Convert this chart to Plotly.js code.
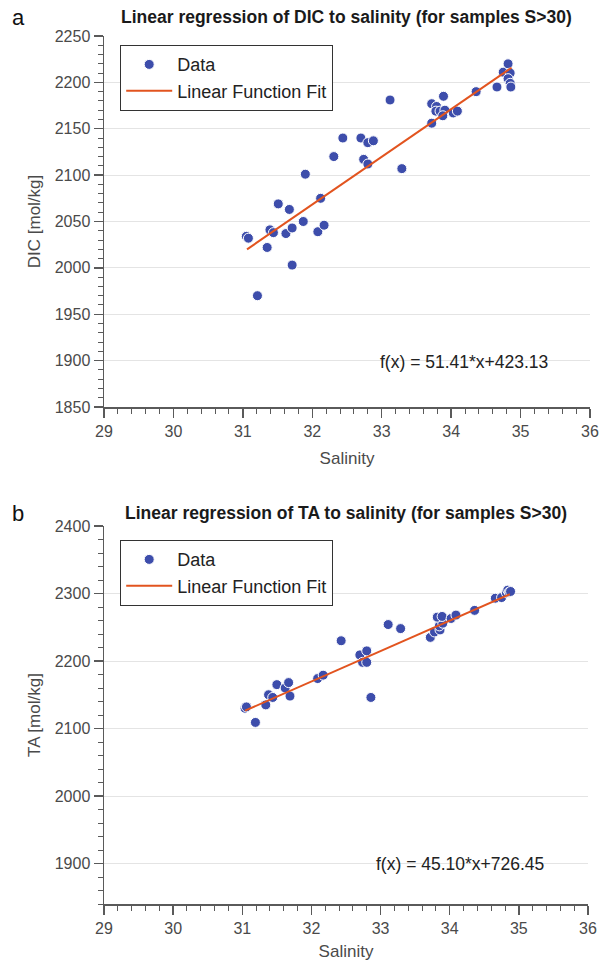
<!DOCTYPE html>
<html>
<head>
<meta charset="utf-8">
<script src="https://cdn.plot.ly/plotly-3.0.1.min.js"></script>
<style>html,body{margin:0;padding:0;background:#fff;}#chart{width:599px;height:961px;}</style>
</head>
<body>
<div id="chart"></div>
<script>
// ---- Panel a: DIC vs salinity ----
const salinityDIC = [31.05,31.08,31.21,31.35,31.39,31.44,31.51,31.62,31.67,31.71,31.71,31.87,31.90,32.08,32.12,32.17,32.31,32.44,32.70,32.74,32.80,32.80,32.88,33.12,33.29,33.72,33.72,33.79,33.78,33.84,33.91,33.88,33.89,34.03,34.09,34.36,34.66,34.75,34.82,34.85,34.82,34.85,34.86];
const dicValues   = [2034,2032,1970,2022,2041,2038,2069,2037,2063,2043,2003,2050,2101,2039,2075,2046,2120,2140,2140,2117,2135,2112,2137,2181,2107,2177,2156,2174,2169,2169,2170,2164,2185,2167,2169,2190,2195,2211,2220,2210,2204,2199,2195];
const fitSalinityDIC = [31.06, 34.87];
const fitDIC         = [2020.0, 2215.8];
const eqDIC = "f(x) = 51.41*x+423.13";

// ---- Panel b: TA vs salinity ----
const salinityTA = [31.04,31.06,31.19,31.34,31.38,31.44,31.50,31.62,31.67,31.69,32.09,32.17,32.43,32.70,32.80,32.74,32.80,32.86,33.11,33.29,33.72,33.78,33.86,33.85,33.90,33.82,33.89,34.02,34.09,34.36,34.66,34.75,34.82,34.84,34.86,34.88];
const taValues   = [2130,2132,2109,2135,2150,2146,2165,2160,2168,2148,2174,2179,2230,2209,2215,2198,2198,2146,2254,2248,2235,2243,2246,2252,2256,2265,2266,2263,2268,2275,2293,2294,2301,2305,2302,2303];
const fitSalinityTA = [31.04, 34.87];
const fitTA         = [2126.4, 2299.1];
const eqTA = "f(x) = 45.10*x+726.45";

const titleA = "Linear regression of DIC to salinity (for samples S>30)";
const titleB = "Linear regression of TA to salinity (for samples S>30)";
const xTitle = "Salinity";
const yTitleA = "DIC [mol/kg]";
const yTitleB = "TA [mol/kg]";
const legendNames = ["Data", "Linear Function Fit"];

const W = 599, H = 961;
const px = v => v / W;
const py = v => 1 - v / H;

const dotColor = '#3d4dab';
const lineColor = '#e2541f';
const axisColor = '#5a5a5a';
const textColor = '#4a4a4a';
const FONT = 'Liberation Sans, Arial, Helvetica, sans-serif';

const traces = [
  {x: salinityDIC, y: dicValues, type: 'scatter', mode: 'markers', name: legendNames[0],
   marker: {color: dotColor, size: 10, line: {color: '#ffffff', width: 1}}, xaxis: 'x', yaxis: 'y', legend: 'legend'},
  {x: fitSalinityDIC, y: fitDIC, type: 'scatter', mode: 'lines', name: legendNames[1],
   line: {color: lineColor, width: 2}, xaxis: 'x', yaxis: 'y', legend: 'legend'},
  {x: salinityTA, y: taValues, type: 'scatter', mode: 'markers', name: legendNames[0],
   marker: {color: dotColor, size: 10, line: {color: '#ffffff', width: 1}}, xaxis: 'x2', yaxis: 'y2', legend: 'legend2'},
  {x: fitSalinityTA, y: fitTA, type: 'scatter', mode: 'lines', name: legendNames[1],
   line: {color: lineColor, width: 2}, xaxis: 'x2', yaxis: 'y2', legend: 'legend2'}
];

function xAxis(anchor, domain) {
  return {
    anchor: anchor, domain: domain, range: [29, 36], dtick: 1, tick0: 29,
    ticks: 'outside', ticklen: 9, tickwidth: 1.3, tickcolor: axisColor,
    showline: true, linecolor: axisColor, linewidth: 1.5,
    showgrid: false, zeroline: false,
    tickfont: {family: FONT, size: 16, color: textColor},
    minor: {dtick: 0.2, ticks: 'outside', ticklen: 5, tickwidth: 1, tickcolor: axisColor, showgrid: false},
    title: {text: xTitle, font: {family: FONT, size: 17, color: textColor}, standoff: 13},
    fixedrange: true
  };
}
function yAxis(anchor, domain, range, dtick, minorDtick, title) {
  return {
    anchor: anchor, domain: domain, range: range, dtick: dtick, tick0: 0,
    ticks: 'outside', ticklen: 9, tickwidth: 1.3, tickcolor: axisColor,
    showline: true, linecolor: axisColor, linewidth: 1.5,
    showgrid: true, gridcolor: '#e4e4e4', gridwidth: 1, zeroline: false,
    tickfont: {family: FONT, size: 16, color: textColor},
    minor: {dtick: minorDtick, ticks: 'outside', ticklen: 5, tickwidth: 1, tickcolor: axisColor, showgrid: false},
    title: {text: title, font: {family: FONT, size: 17, color: textColor}, standoff: 10},
    fixedrange: true
  };
}

const legendStyle = (x, y) => ({
  x: x, y: y, xanchor: 'left', yanchor: 'top', xref: 'paper', yref: 'paper',
  bgcolor: '#ffffff', bordercolor: '#333333', borderwidth: 1.2,
  font: {family: FONT, size: 18, color: '#222222'},
  tracegroupgap: 0, itemwidth: 46
});

const layout = {
  width: W, height: H,
  margin: {l: 0, r: 0, t: 0, b: 0},
  paper_bgcolor: '#ffffff', plot_bgcolor: '#ffffff',
  showlegend: true,
  xaxis: xAxis('y', [px(104), px(590)]),
  yaxis: yAxis('x', [py(407), py(36)], [1850, 2250], 50, 10, yTitleA),
  xaxis2: xAxis('y2', [px(104), px(588)]),
  yaxis2: yAxis('x2', [py(904), py(526)], [1840, 2400], 100, 20, yTitleB),
  legend: legendStyle(px(120), py(45)),
  legend2: legendStyle(px(120), py(540)),
  annotations: [
    {text: 'a', xref: 'paper', yref: 'paper', x: px(18), y: py(17), xanchor: 'center', yanchor: 'middle', showarrow: false,
     font: {family: FONT, size: 22, color: '#111'}},
    {text: 'b', xref: 'paper', yref: 'paper', x: px(18), y: py(513), xanchor: 'center', yanchor: 'middle', showarrow: false,
     font: {family: FONT, size: 22, color: '#111'}},
    {text: '<b>' + titleA + '</b>', xref: 'paper', yref: 'paper', x: px(346), y: py(17), xanchor: 'center', yanchor: 'middle', showarrow: false,
     font: {family: FONT, size: 17.5, color: '#1a1a1a'}},
    {text: '<b>' + titleB + '</b>', xref: 'paper', yref: 'paper', x: px(346), y: py(513), xanchor: 'center', yanchor: 'middle', showarrow: false,
     font: {family: FONT, size: 17.5, color: '#1a1a1a'}},
    {text: eqDIC, xref: 'x', yref: 'y', x: 32.95, y: 1898, xanchor: 'left', yanchor: 'middle', showarrow: false,
     font: {family: FONT, size: 17.5, color: '#222'}},
    {text: eqTA, xref: 'x2', yref: 'y2', x: 32.91, y: 1900, xanchor: 'left', yanchor: 'middle', showarrow: false,
     font: {family: FONT, size: 17.5, color: '#222'}}
  ]
};

Plotly.newPlot('chart', traces, layout, {displayModeBar: false, staticPlot: true});
</script>
</body>
</html>
